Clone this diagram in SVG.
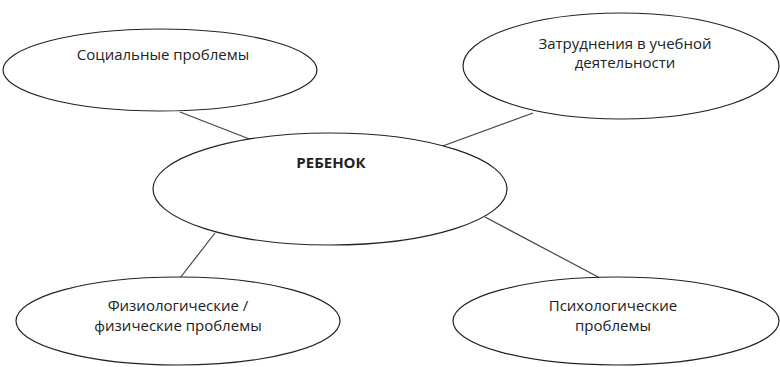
<svg xmlns="http://www.w3.org/2000/svg" width="780" height="367" viewBox="0 0 780 367">
<style>
.n ellipse{fill:#fff;stroke:#222;stroke-width:1.2}
.c line{stroke:#444;stroke-width:1.2}
text{font-family:"Open Sans","Liberation Sans",sans-serif;font-size:15px;fill:#222;text-anchor:middle}
.b{font-weight:bold;font-size:15px}
</style>
<rect width="780" height="367" fill="#fff"/>
<g class="c">
<line x1="180" y1="112" x2="252" y2="140"/>
<line x1="533" y1="113" x2="440" y2="147"/>
<line x1="215" y1="233" x2="180" y2="278"/>
<line x1="485" y1="217" x2="600" y2="278"/>
</g>
<g class="n" id="social"><ellipse cx="160" cy="70" rx="157" ry="41"/><text x="163" y="60">Социальные проблемы</text></g>
<g class="n" id="study"><ellipse cx="621" cy="66" rx="158" ry="53"/><text x="625" y="49">Затруднения в учебной</text><text x="625" y="68">деятельности</text></g>
<g class="n" id="child"><ellipse cx="330" cy="189" rx="177" ry="56"/><text class="b" x="331" y="168">РЕБЕНОК</text></g>
<g class="n" id="physio"><ellipse cx="178" cy="321" rx="162" ry="44"/><text x="178" y="311">Физиологические /</text><text x="178" y="331">физические проблемы</text></g>
<g class="n" id="psych"><ellipse cx="616" cy="321" rx="163" ry="44"/><text x="613" y="311">Психологические</text><text x="613" y="331">проблемы</text></g>
</svg>
